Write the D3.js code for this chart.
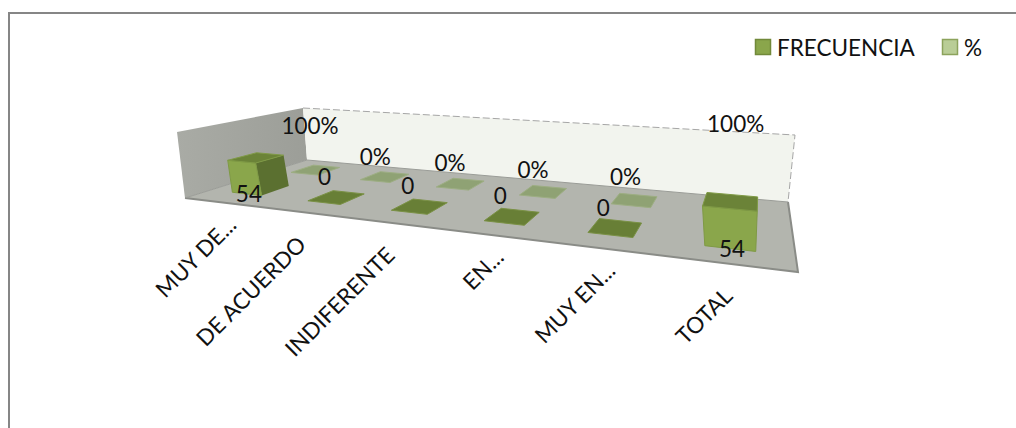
<!DOCTYPE html>
<html>
<head>
<meta charset="utf-8">
<script src="https://cdnjs.cloudflare.com/ajax/libs/d3/7.8.5/d3.min.js"></script>
<style>
html,body{margin:0;padding:0;background:#fff;}
svg{display:block;}
text{font-family:Lato,"Open Sans",sans-serif;fill:#111;}
</style>
</head>
<body>
<svg id="chart" width="1016" height="428"></svg>
<script>
// Survey results: one row of columns per series, standing on a tilted floor.
const categories = ["MUY DE...", "DE ACUERDO", "INDIFERENTE", "EN...", "MUY EN...", "TOTAL"];
const seriesNames = ["FRECUENCIA", "%"];
const frecuencia = [54, 0, 0, 0, 0, 54];
const porcentaje = [1, 0, 0, 0, 0, 1];
const porcentajeLabels = ["100%", "0%", "0%", "0%", "0%", "100%"];
const valueDomain = [0, 108];

const W = 1016, H = 428;
const svg = d3.select("#chart");

// Corners of the floor and of the plane at the top of the walls, in screen space.
const floorQuad = {fl:[185,198], fr:[798,272], br:[788,202], bl:[307,160]};
const topQuad   = {fl:[177,132], fr:[809,187], br:[795,135], bl:[303,108]};

// Maps the unit square onto a quadrilateral.
function squareToQuad(q){
  const [x0,y0]=q.fl,[x1,y1]=q.fr,[x2,y2]=q.br,[x3,y3]=q.bl;
  const dx1=x1-x2,dx2=x3-x2,sx=x0-x1+x2-x3,dy1=y1-y2,dy2=y3-y2,sy=y0-y1+y2-y3;
  const den=dx1*dy2-dx2*dy1;
  const g=(sx*dy2-dx2*sy)/den,h=(dx1*sy-sx*dy1)/den;
  const a=x1-x0+g*x1,b=x3-x0+h*x3,c=x0,d=y1-y0+g*y1,e=y3-y0+h*y3,f=y0;
  return (u,v)=>{const w=g*u+h*v+1;return [(a*u+b*v+c)/w,(d*u+e*v+f)/w];};
}
const floorMap = squareToQuad(floorQuad), topMap = squareToQuad(topQuad);
function project(u,v,t){
  const p=floorMap(u,v), q=topMap(u,v);
  return [p[0]+(q[0]-p[0])*t, p[1]+(q[1]-p[1])*t];
}

const uScale = d3.scaleBand().domain(d3.range(categories.length)).range([0,1]).paddingInner(0.6).paddingOuter(0.3);
const vScale = d3.scaleBand().domain(seriesNames).range([0.1,0.95]).paddingInner(0.55).paddingOuter(0.16);
const hScale = d3.scaleLinear().domain(valueDomain).range([0,1]);

const poly = d3.line();
const quad = (pts,fill,stroke,op)=>svg.append("path")
  .attr("d",poly(pts)+"Z").attr("fill",fill)
  .attr("stroke",stroke||"none").attr("stroke-width",stroke?1:0)
  .attr("fill-opacity",op==null?1:op);

// Chart frame: left and top edges only
svg.append("path").attr("d",`M9,${H}V13H${W}`).attr("fill","none").attr("stroke","#868686").attr("stroke-width",2);

// Gradient for the side wall
const defs=svg.append("defs");
const wallGrad=defs.append("linearGradient").attr("id","sideWall").attr("x1",0).attr("x2",1).attr("y1",0).attr("y2",0);
wallGrad.append("stop").attr("offset","0%").attr("stop-color","#a9aba5");
wallGrad.append("stop").attr("offset","100%").attr("stop-color","#9c9e98");

// Walls and floor
quad([project(0,0,0),project(0,1,0),project(0,1,1),project(0,0,1)],"url(#sideWall)");
quad([project(0,1,0),project(1,1,0),project(1,1,1),project(0,1,1)],"#f2f4ee");
svg.append("path").attr("d",poly([project(0,1,1),project(1,1,1),project(1,1,0)]))
  .attr("fill","none").attr("stroke","#a6a6a6").attr("stroke-dasharray","7,3").attr("stroke-width",1);
quad([project(0,0,0),project(1,0,0),project(1,1,0),project(0,1,0)],"#b3b5ae");
svg.append("path").attr("d",poly([project(0,0,0),project(1,0,0),project(1,1,0)]))
  .attr("fill","none").attr("stroke","#8a8c87").attr("stroke-width",2);
svg.append("path").attr("d",poly([project(0,0,0),project(0,1,0),project(1,1,0)]))
  .attr("fill","none").attr("stroke","#9a9c97").attr("stroke-width",1);

// Draws one column; a zero-height column shows only its flat cap.
function column(i,series,value,colors){
  const u0=uScale(i),u1=u0+uScale.bandwidth();
  const v0=vScale(series),v1=v0+vScale.bandwidth();
  const t=hScale(value);
  const P=project;
  if(value>=10){
    const right=[P(u1,v0,0),P(u1,v1,0),P(u1,v1,t),P(u1,v0,t)];
    if(d3.polygonArea(right)>0) quad(right,colors.side);
    quad([P(u0,v0,0),P(u1,v0,0),P(u1,v0,t),P(u0,v0,t)],colors.front,colors.edge);
    quad([P(u0,v0,t),P(u1,v0,t),P(u1,v1,t),P(u0,v1,t)],colors.top,colors.edge);
  } else {
    quad([P(u0,v0,t),P(u1,v0,t),P(u1,v1,t),P(u0,v1,t)],colors.flat,colors.flatEdge);
  }
}
const greens={front:"#8aa64b",side:"#5b7030",top:"#6b8338",edge:"#7f9a45",flat:"#687f36",flatEdge:"#7a9145"};
const pale={front:"#8aa64b",side:"#5b7030",top:"#6b8338",edge:"#7f9a45",flat:"#8fa274",flatEdge:"#9dae83"};

// Back row first so the front columns overlap it
categories.forEach((c,i)=>column(i,"%",porcentaje[i],pale));
categories.forEach((c,i)=>column(i,"FRECUENCIA",frecuencia[i],greens));

// Data labels, anchored at the column's footprint
const FS=22.5;
categories.forEach((c,i)=>{
  const u=uScale(i)+uScale.bandwidth()/2, v=vScale("%")+vScale.bandwidth()/2;
  // Percentage labels rise with their value, and rise further toward the near end
  const lift=0.33+porcentaje[i]*(0.4+0.54*u);
  const p=project(u,v,lift);
  svg.append("text").attr("x",p[0]-6+porcentaje[i]*6).attr("y",p[1]+7).attr("text-anchor","middle").attr("font-size",FS).text(porcentajeLabels[i]);
});
categories.forEach((c,i)=>{
  const u=uScale(i)+uScale.bandwidth()/2;
  const v0=vScale("FRECUENCIA");
  const big=frecuencia[i]>=10;
  const p=big?project(u,v0,0):project(u,v0+vScale.bandwidth()/2,0);
  svg.append("text").attr("x",p[0]+(big?2:-12)).attr("y",p[1]+(big?8:-12)).attr("text-anchor","middle").attr("font-size",FS).text(frecuencia[i]);
});

// Category labels, rotated and ending under their column
categories.forEach((c,i)=>{
  const p=project(uScale(i)+uScale.bandwidth()/2,0,0);
  svg.append("text").attr("transform",`translate(${p[0]+6},${p[1]+34}) rotate(-45)`)
    .attr("text-anchor","end").attr("dx",c.endsWith("...")?14:0).attr("font-size",FS).text(c);
});

// Legend
const legendX=[755,942];
seriesNames.forEach((s,i)=>{
  const g=svg.append("g").attr("transform",`translate(${legendX[i]},39)`);
  g.append("rect").attr("x",0.5).attr("y",0.5).attr("width",15).attr("height",15)
    .attr("fill",i?"#b9cd96":"#8aa64b").attr("stroke",i?"#8ca35c":"#71893a").attr("stroke-width",1.5);
  g.append("text").attr("x",22).attr("y",17).attr("font-size",FS).text(s);
});
</script>
</body>
</html>
